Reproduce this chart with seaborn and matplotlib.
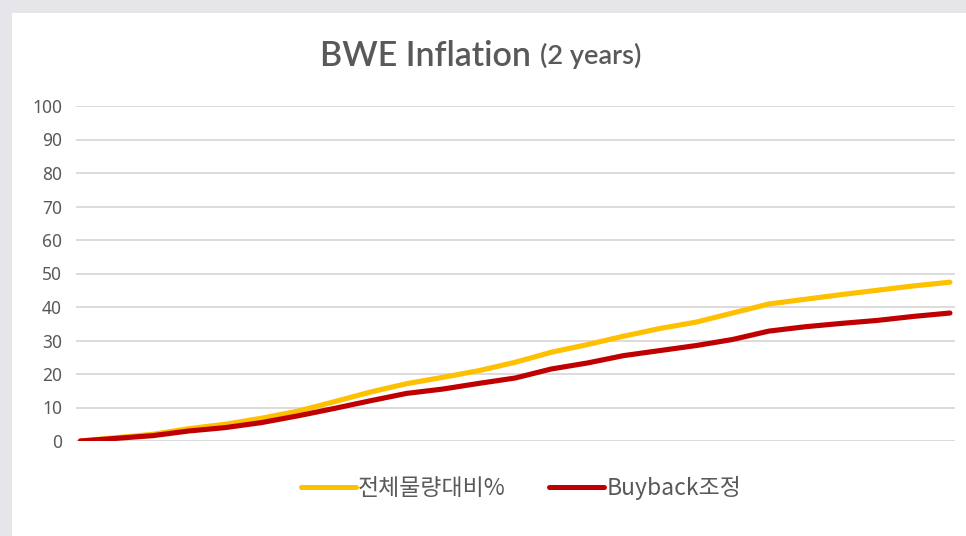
import matplotlib
matplotlib.use("Agg")
import matplotlib.pyplot as plt
import matplotlib.patches as mpatches
import seaborn as sns
import pandas as pd

# monthly points over two years
months = list(range(25))
total_pct = [0, 1.0, 2.0, 3.7, 5.0, 6.8, 8.9, 11.7, 14.6, 17.1, 19.0, 21.0, 23.5,
             26.5, 28.8, 31.3, 33.6, 35.5, 38.2, 40.9, 42.3, 43.7, 45.0, 46.3, 47.4]
buyback_adj = [0, 0.8, 1.6, 3.0, 4.0, 5.5, 7.5, 9.7, 12.0, 14.2, 15.5, 17.2, 18.8,
               21.5, 23.3, 25.5, 27.0, 28.5, 30.3, 32.8, 34.1, 35.1, 36.0, 37.2, 38.2]
series_names = ["전체물량대비%", "Buyback조정"]
series_colors = ["#FFC000", "#C00000"]
y_ticks = [0, 10, 20, 30, 40, 50, 60, 70, 80, 90, 100]

df = pd.DataFrame({
    "month": months * 2,
    "value": total_pct + buyback_adj,
    "series": [series_names[0]] * len(months) + [series_names[1]] * len(months),
})

sns.set_style("white")
plt.rcParams['font.family'] = ['Noto Sans', 'Noto Sans CJK KR', 'DejaVu Sans']

fig = plt.figure(figsize=(9.66, 5.36), dpi=100)
fig.patch.set_facecolor("#e6e6ea")
# white card behind everything
fig.patches.append(mpatches.Rectangle((12 / 966, 0), 1, 1 - 13 / 536,
                                      transform=fig.transFigure,
                                      facecolor="white", edgecolor="none", zorder=-10))

ax = fig.add_axes([76 / 966, 1 - 441 / 536, (955 - 76) / 966, (441 - 106) / 536])
ax.set_zorder(5)
ax.set_facecolor("white")

sns.lineplot(data=df, x="month", y="value", hue="series",
             palette=dict(zip(series_names, series_colors)),
             linewidth=3.7, ax=ax, legend=False)

ax.set_xlim(-0.12, 24.14)
ax.set_ylim(0, 100)
ax.set_yticks(y_ticks)
ax.set_xticks([])
ax.yaxis.grid(True, color="#d9d9d9", linewidth=1.3)
ax.set_axisbelow(True)
for s in ax.spines.values():
    s.set_visible(False)
ax.tick_params(axis="y", length=0, pad=10, labelsize=12.5, labelcolor="#595959")
ax.set_xlabel("")
ax.set_ylabel("")

# title in two sizes
fig.text(531 / 966, 1 - 56 / 536, "BWE Inflation", ha="right", va="center",
         fontsize=24.5, color="#595959", fontweight="semibold", family=["Lato", "DejaVu Sans"])
fig.text(540 / 966, 1 - 56 / 536, "(2 years)", ha="left", va="center",
         fontsize=19.5, color="#595959", fontweight="semibold", family=["Lato", "DejaVu Sans"])

handles = [plt.Line2D([], [], color=c, linewidth=3.6) for c in series_colors]
leg = fig.legend(handles, series_names, loc="center", bbox_to_anchor=(521 / 966, 1 - 488 / 536),
                 ncol=2, frameon=False, handlelength=2.4, handletextpad=0.1,
                 columnspacing=1.9, prop={"family": ["Noto Sans CJK KR", "DejaVu Sans"], "size": 16.5})
for t in leg.get_texts():
    t.set_color("#595959")

fig.savefig("out.png", dpi=100, facecolor=fig.get_facecolor())
